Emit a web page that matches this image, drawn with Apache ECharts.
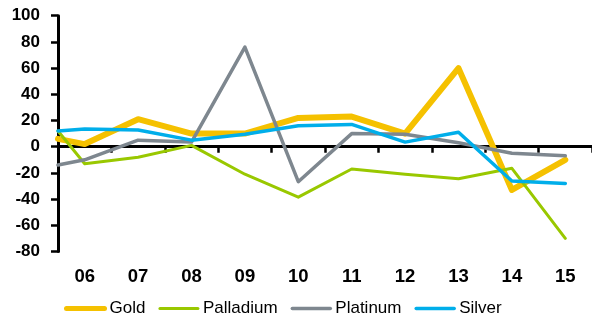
<!DOCTYPE html>
<html>
<head>
<meta charset="utf-8">
<script src="https://cdn.jsdelivr.net/npm/echarts@6/dist/echarts.min.js"></script>
<style>
  html, body { margin: 0; padding: 0; background: #fff; }
  #chart { width: 592px; height: 323px; }
</style>
</head>
<body>
<div id="chart"></div>
<script>
// Year labels along the bottom
const years = ['06', '07', '08', '09', '10', '11', '12', '13', '14', '15'];

// Annual % change per metal. The first entry is the reading at the left
// edge of the plot (where the line enters), followed by one value per year.
const gold      = [6, 2, 21, 10, 10, 22, 23, 10, 60, -33, -10];
const palladium = [12, -13, -8, 1, -21, -38.5, -17, -21, -24.5, -16.5, -70];
const platinum  = [-14, -10, 5, 3.5, 76, -26.7, 10, 9.5, 3, -5, -7];
const silver    = [12, 13.5, 12.7, 5, 9.5, 16, 17, 3.5, 11, -26.2, -28];

// Value-axis ticks
const yTicks = { min: -80, max: 100, step: 20 };

const seriesDefs = [
  { name: 'Gold',      values: gold,      color: '#F5C100', width: 6,   keyWidth: 5 },
  { name: 'Palladium', values: palladium, color: '#99C800', width: 3,   keyWidth: 3 },
  { name: 'Platinum',  values: platinum,  color: '#7E878F', width: 3.5, keyWidth: 3.5 },
  { name: 'Silver',    values: silver,    color: '#00AEEA', width: 3.5, keyWidth: 3.5 }
];

// Position on a continuous x scale: 0 is the plot's left edge,
// year i sits at the centre of its category slot (i + 0.5).
function toPoints(values) {
  return values.map((v, i) => [i === 0 ? 0 : i - 0.5, v]);
}

const chart = echarts.init(document.getElementById('chart'), null, { renderer: 'canvas' });

chart.setOption({
  animation: false,
  backgroundColor: '#fff',
  grid: { left: 58, right: 0, top: 15.7, bottom: 71.5, containLabel: false },
  xAxis: [
    { // zero line with ticks between years
      type: 'category', data: years, boundaryGap: true, position: 'bottom',
      axisLine: { show: true, onZero: true, lineStyle: { color: '#000', width: 3 } },
      axisTick: { show: true, inside: false, length: 6, lineStyle: { color: '#000', width: 2.5 } },
      axisLabel: { show: false },
      splitLine: { show: false }
    },
    { // year labels below the plot
      type: 'category', data: years, boundaryGap: true, position: 'bottom',
      axisLine: { show: false, onZero: false },
      axisTick: { show: false },
      axisLabel: {
        show: true, margin: 16, color: '#000',
        fontFamily: 'Liberation Sans, Arial, sans-serif', fontWeight: 'bold', fontSize: 18.5
      },
      splitLine: { show: false }
    },
    { // continuous scale used to place the lines
      type: 'value', min: 0, max: years.length, show: false,
      axisLine: { onZero: false }, splitLine: { show: false }
    }
  ],
  yAxis: {
    type: 'value', min: yTicks.min, max: yTicks.max, interval: yTicks.step,
    axisLine: { show: true, onZero: false, lineStyle: { color: '#000', width: 3 } },
    axisTick: { show: true, inside: false, length: 7, lineStyle: { color: '#000', width: 2.5 } },
    axisLabel: {
      margin: 18, color: '#000',
      fontFamily: 'Liberation Sans, Arial, sans-serif', fontWeight: 'bold', fontSize: 17
    },
    splitLine: { show: false }
  },
  legend: {
    top: 300, left: 64, padding: 0, itemGap: 13, itemWidth: 38, itemHeight: 16,
    itemStyle: { opacity: 0 },
    textStyle: {
      color: '#000', fontSize: 17,
      fontFamily: 'Liberation Sans, Arial, sans-serif'
    },
    data: seriesDefs.map(s => ({
      name: s.name,
      itemStyle: { opacity: 0 },
      lineStyle: { color: s.color, width: s.keyWidth, cap: 'round' }
    }))
  },
  series: seriesDefs.map(s => ({
    name: s.name,
    type: 'line',
    xAxisIndex: 2,
    data: toPoints(s.values),
    symbol: 'none',
    smooth: false,
    clip: true,
    lineStyle: { color: s.color, width: s.width, join: 'round', cap: 'round' },
    itemStyle: { color: s.color }
  }))
});
</script>
</body>
</html>
